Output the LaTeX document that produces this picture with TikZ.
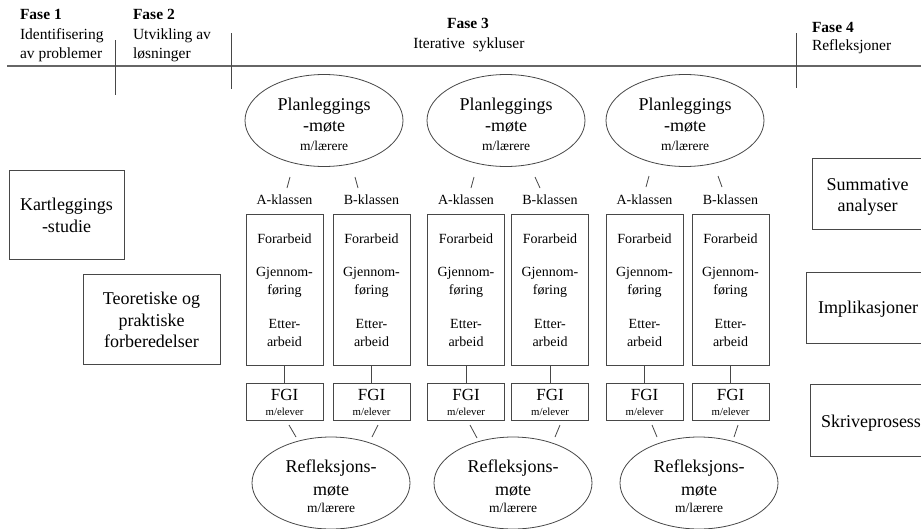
\documentclass[tikz,border=0pt]{standalone}
\usepackage{fontspec}
\setmainfont{Liberation Serif}
\usetikzlibrary{shapes.geometric}
\begin{document}
\begin{tikzpicture}[x=1pt,y=-1pt,
  every node/.style={inner sep=0pt, outer sep=0pt},
  ln/.style={draw=black!72, line width=0.8pt},
  hline/.style={draw=black!60, line width=1.2pt},
  box/.style={draw=black!72, line width=0.8pt, rectangle},
  ell/.style={draw=black!72, line width=0.8pt, ellipse, minimum width=158pt, minimum height=92pt},
  big/.style={font=\fontsize{18}{20}\selectfont, anchor=base},
  mid/.style={font=\fontsize{14}{16}\selectfont, anchor=base},
  fgi/.style={font=\fontsize{17}{19}\selectfont, anchor=base},
  tiny/.style={font=\fontsize{10.8}{12}\selectfont, anchor=base},
  teach/.style={font=\fontsize{13.5}{15}\selectfont, anchor=base},
  hdr/.style={font=\fontsize{15.5}{17}\selectfont, anchor=base west},
  hdrc/.style={font=\fontsize{15.5}{17}\selectfont, anchor=base},
]
\useasboundingbox (0,0) rectangle (921,528);
\clip (0,0) rectangle (921,528);
\fill[white] (0,0) rectangle (921,528);

% ---------- header ----------
\coordinate (hl) at (7,66);
\coordinate (hr) at (925,66);
\draw[hline] (hl) -- (hr);
\coordinate (v1t) at (115,40); \coordinate (v1b) at (115,95);
\coordinate (v2t) at (231,33); \coordinate (v2b) at (231,89);
\coordinate (v4t) at (796,33); \coordinate (v4b) at (796,88);
\draw[ln, line width=1pt] (v1t) -- (v1b);
\draw[ln, line width=1pt] (v2t) -- (v2b);
\draw[ln, line width=1pt] (v4t) -- (v4b);

\node[hdr] (f1) at (20,19) {\bfseries Fase 1};
\node[hdr] (f1a) at (20,39) {Identifisering};
\node[hdr] (f1b) at (20,58) {av problemer};
\node[hdr] (f2) at (133,19) {\bfseries Fase 2};
\node[hdr] (f2a) at (133,39) {Utvikling av};
\node[hdr] (f2b) at (133,58) {løsninger};
\node[hdrc] (f3) at (468,28) {\bfseries Fase 3};
\node[hdrc] (f3a) at (469,48) {Iterative\ \ sykluser};
\node[hdr] (f4) at (812,32) {\bfseries Fase 4};
\node[hdr] (f4a) at (812,50) {Refleksjoner};

% ---------- left boxes ----------
\node[box, minimum width=115pt, minimum height=89pt] (kart) at (66.5,214.5) {};
\node[big] (kart1) at (66.5,210) {Kartleggings};
\node[big] (kart2) at (66.5,232) {-studie};
\node[box, minimum width=137pt, minimum height=90pt] (teo) at (151.5,319) {};
\node[big] (teo1) at (151.5,304) {Teoretiske og};
\node[big] (teo2) at (151.5,326) {praktiske};
\node[big] (teo3) at (151.5,347) {forberedelser};

% ---------- right boxes ----------
\node[box, minimum width=120pt, minimum height=71pt, anchor=north west] (sum) at (812,158) {};
\node[big] (sum1) at (867.5,190) {Summative};
\node[big] (sum2) at (867.5,211) {analyser};
\node[box, minimum width=126pt, minimum height=71pt, anchor=north west] (imp) at (806,272) {};
\node[big] (imp1) at (868,313) {Implikasjoner};
\node[box, minimum width=122pt, minimum height=72pt, anchor=north west] (skr) at (810,384) {};
\node[big, anchor=base west] (skr1) at (821,427) {Skriveprosess};

% ---------- cycles ----------
\foreach \i/\ax/\bx/\pc/\rc in {1/284.5/371.5/324/331, 2/466/550/506/513, 3/644.5/730.5/685/699}{
  % planning ellipse
  \node[ell] (plan\i) at (\pc,120.5) {};
  \node[big] at (\pc,110) {Planleggings};
  \node[big] at (\pc,131) {-møte};
  \node[teach] at (\pc,150) {m/lærere};
  % class labels
  \node[mid] (la\i) at (\ax,204) {A-klassen};
  \node[mid] (lb\i) at (\bx,204) {B-klassen};
  % activity boxes
  \foreach \s/\x in {a/\ax, b/\bx}{
    \node[box, minimum width=77pt, minimum height=151pt] (\s\i) at (\x,290) {};
    \node[mid] at (\x,243) {Forarbeid};
    \node[mid] at (\x,276) {Gjennom-};
    \node[mid] at (\x,294) {føring};
    \node[mid] at (\x,328) {Etter-};
    \node[mid] at (\x,346) {arbeid};
    \node[box, minimum width=77pt, minimum height=37pt] (g\s\i) at (\x,401.5) {};
    \node[fgi] at (\x,400) {FGI};
    \node[tiny] at (\x,415) {m/elever};
    \draw[ln] (\s\i.south) -- (g\s\i.north);
  }
  % reflection ellipse
  \node[ell] (ref\i) at (\rc,483) {};
  \node[big] at (\rc,472) {Refleksjons-};
  \node[big] at (\rc,495) {møte};
  \node[teach] at (\rc,512) {m/lærere};
}

% ---------- short slash connectors ----------
\coordinate (s1a) at (290,177); \coordinate (s1b) at (287,188);
\coordinate (s1c) at (355,177); \coordinate (s1d) at (358,188);
\coordinate (s2a) at (474,177); \coordinate (s2b) at (471,188);
\coordinate (s2c) at (535,177); \coordinate (s2d) at (540,188);
\coordinate (s3a) at (649,176); \coordinate (s3b) at (646,187);
\coordinate (s3c) at (718,176); \coordinate (s3d) at (722,187);
\draw[ln] (s1a) -- (s1b); \draw[ln] (s1c) -- (s1d);
\draw[ln] (s2a) -- (s2b); \draw[ln] (s2c) -- (s2d);
\draw[ln] (s3a) -- (s3b); \draw[ln] (s3c) -- (s3d);

\coordinate (t1a) at (289,425); \coordinate (t1b) at (296,437);
\coordinate (t1c) at (378,425); \coordinate (t1d) at (372,437);
\coordinate (t2a) at (470,425); \coordinate (t2b) at (477,438);
\coordinate (t2c) at (560,425); \coordinate (t2d) at (555,437);
\coordinate (t3a) at (652,425); \coordinate (t3b) at (657,437);
\coordinate (t3c) at (738,425); \coordinate (t3d) at (734,437);
\draw[ln] (t1a) -- (t1b); \draw[ln] (t1c) -- (t1d);
\draw[ln] (t2a) -- (t2b); \draw[ln] (t2c) -- (t2d);
\draw[ln] (t3a) -- (t3b); \draw[ln] (t3c) -- (t3d);
\end{tikzpicture}
\end{document}
